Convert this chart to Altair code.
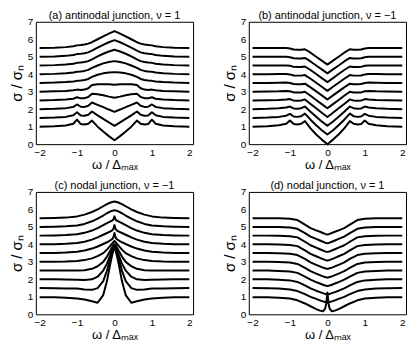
import altair as alt
import pandas as pd

FONT = "Liberation Sans"

XA = [-2, -1.6, -1.3, -1.1, -1.0, -0.9, -0.8, -0.7, -0.6, -0.45, -0.3, -0.15, 0,
      0.15, 0.3, 0.45, 0.6, 0.7, 0.8, 0.9, 1.0, 1.1, 1.3, 1.6, 2]
XC = [-2, -1.6, -1.3, -1.0, -0.8, -0.6, -0.45, -0.3, -0.2, -0.12, -0.06, -0.03, 0,
      0.03, 0.06, 0.12, 0.2, 0.3, 0.45, 0.6, 0.8, 1.0, 1.3, 1.6, 2]

A = [
    [1.0, 1.02, 1.07, 1.17, 1.4, 1.15, 1.12, 1.17, 1.35, 1.0, 0.72, 0.46, 0.22, 0.46, 0.72, 1.0, 1.35, 1.17, 1.12, 1.15, 1.4, 1.17, 1.07, 1.02, 1.0],
    [1.5, 1.52, 1.56, 1.65, 1.82, 1.64, 1.62, 1.68, 1.87, 1.65, 1.45, 1.25, 1.05, 1.25, 1.45, 1.65, 1.87, 1.68, 1.62, 1.64, 1.82, 1.65, 1.56, 1.52, 1.5],
    [2.0, 2.02, 2.06, 2.13, 2.27, 2.14, 2.13, 2.2, 2.38, 2.25, 2.12, 1.98, 1.85, 1.98, 2.12, 2.25, 2.38, 2.2, 2.13, 2.14, 2.27, 2.13, 2.06, 2.02, 2.0],
    [2.5, 2.52, 2.55, 2.6, 2.68, 2.62, 2.63, 2.7, 2.88, 2.85, 2.8, 2.72, 2.65, 2.72, 2.8, 2.85, 2.88, 2.7, 2.63, 2.62, 2.68, 2.6, 2.55, 2.52, 2.5],
    [3.0, 3.02, 3.04, 3.08, 3.12, 3.1, 3.12, 3.2, 3.38, 3.43, 3.43, 3.42, 3.4, 3.42, 3.43, 3.43, 3.38, 3.2, 3.12, 3.1, 3.12, 3.08, 3.04, 3.02, 3.0],
    [3.5, 3.52, 3.55, 3.59, 3.62, 3.64, 3.67, 3.73, 3.85, 3.97, 4.05, 4.1, 4.12, 4.1, 4.05, 3.97, 3.85, 3.73, 3.67, 3.64, 3.62, 3.59, 3.55, 3.52, 3.5],
    [4.0, 4.02, 4.05, 4.1, 4.14, 4.16, 4.19, 4.25, 4.36, 4.5, 4.62, 4.7, 4.75, 4.7, 4.62, 4.5, 4.36, 4.25, 4.19, 4.16, 4.14, 4.1, 4.05, 4.02, 4.0],
    [4.5, 4.52, 4.55, 4.6, 4.65, 4.67, 4.7, 4.75, 4.85, 5.02, 5.17, 5.3, 5.4, 5.3, 5.17, 5.02, 4.85, 4.75, 4.7, 4.67, 4.65, 4.6, 4.55, 4.52, 4.5],
    [5.0, 5.02, 5.05, 5.1, 5.15, 5.17, 5.2, 5.25, 5.35, 5.52, 5.68, 5.83, 5.95, 5.83, 5.68, 5.52, 5.35, 5.25, 5.2, 5.17, 5.15, 5.1, 5.05, 5.02, 5.0],
    [5.5, 5.52, 5.55, 5.6, 5.65, 5.67, 5.7, 5.75, 5.83, 6.0, 6.17, 6.32, 6.47, 6.32, 6.17, 6.0, 5.83, 5.75, 5.7, 5.67, 5.65, 5.6, 5.55, 5.52, 5.5],
]

B = [
    [1.0, 1.03, 1.08, 1.17, 1.35, 1.15, 1.12, 1.17, 1.32, 0.9, 0.55, 0.26, 0.0, 0.26, 0.55, 0.9, 1.32, 1.17, 1.12, 1.15, 1.35, 1.17, 1.08, 1.03, 1.0],
    [1.5, 1.52, 1.56, 1.63, 1.73, 1.58, 1.56, 1.6, 1.75, 1.4, 1.08, 0.8, 0.55, 0.8, 1.08, 1.4, 1.75, 1.6, 1.56, 1.58, 1.73, 1.63, 1.56, 1.52, 1.5],
    [2.0, 2.02, 2.05, 2.1, 2.15, 2.04, 2.03, 2.06, 2.15, 1.85, 1.57, 1.3, 1.05, 1.3, 1.57, 1.85, 2.15, 2.06, 2.03, 2.04, 2.15, 2.1, 2.05, 2.02, 2.0],
    [2.5, 2.51, 2.53, 2.56, 2.58, 2.49, 2.48, 2.5, 2.56, 2.3, 2.05, 1.8, 1.55, 1.8, 2.05, 2.3, 2.56, 2.5, 2.48, 2.49, 2.58, 2.56, 2.53, 2.51, 2.5],
    [3.0, 3.01, 3.02, 3.04, 3.03, 2.96, 2.95, 2.96, 3.0, 2.77, 2.53, 2.29, 2.05, 2.29, 2.53, 2.77, 3.0, 2.96, 2.95, 2.96, 3.03, 3.04, 3.02, 3.01, 3.0],
    [3.5, 3.5, 3.51, 3.52, 3.5, 3.44, 3.43, 3.43, 3.46, 3.25, 3.02, 2.79, 2.55, 2.79, 3.02, 3.25, 3.46, 3.43, 3.43, 3.44, 3.5, 3.52, 3.51, 3.5, 3.5],
    [4.0, 4.0, 4.01, 4.01, 3.99, 3.93, 3.92, 3.92, 3.95, 3.74, 3.51, 3.28, 3.05, 3.28, 3.51, 3.74, 3.95, 3.92, 3.92, 3.93, 3.99, 4.01, 4.01, 4.0, 4.0],
    [4.5, 4.5, 4.5, 4.5, 4.48, 4.42, 4.41, 4.41, 4.44, 4.24, 4.01, 3.78, 3.55, 3.78, 4.01, 4.24, 4.44, 4.41, 4.41, 4.42, 4.48, 4.5, 4.5, 4.5, 4.5],
    [5.0, 5.0, 5.0, 5.0, 4.97, 4.91, 4.9, 4.9, 4.93, 4.73, 4.5, 4.28, 4.05, 4.28, 4.5, 4.73, 4.93, 4.9, 4.9, 4.91, 4.97, 5.0, 5.0, 5.0, 5.0],
    [5.5, 5.5, 5.5, 5.5, 5.47, 5.41, 5.4, 5.4, 5.43, 5.23, 5.0, 4.78, 4.55, 4.78, 5.0, 5.23, 5.43, 5.4, 5.4, 5.41, 5.47, 5.5, 5.5, 5.5, 5.5],
]

C = [
    [0.98, 0.97, 0.95, 0.9, 0.85, 0.75, 0.66, 1.1, 1.9, 2.8, 3.4, 3.65, 3.8, 3.65, 3.4, 2.8, 1.9, 1.1, 0.66, 0.75, 0.85, 0.9, 0.95, 0.97, 0.98],
    [1.5, 1.49, 1.48, 1.47, 1.42, 1.4, 1.5, 1.9, 2.5, 3.1, 3.55, 3.75, 3.9, 3.75, 3.55, 3.1, 2.5, 1.9, 1.5, 1.4, 1.42, 1.47, 1.48, 1.49, 1.5],
    [2.0, 2.0, 1.99, 1.97, 1.96, 2.0, 2.15, 2.5, 2.9, 3.35, 3.7, 3.85, 3.95, 3.85, 3.7, 3.35, 2.9, 2.5, 2.15, 2.0, 1.96, 1.97, 1.99, 2.0, 2.0],
    [2.5, 2.5, 2.5, 2.5, 2.52, 2.6, 2.75, 3.0, 3.3, 3.6, 3.85, 3.95, 4.0, 3.95, 3.85, 3.6, 3.3, 3.0, 2.75, 2.6, 2.52, 2.5, 2.5, 2.5, 2.5],
    [3.0, 3.01, 3.02, 3.05, 3.1, 3.2, 3.33, 3.5, 3.7, 3.9, 4.05, 4.12, 4.2, 4.12, 4.05, 3.9, 3.7, 3.5, 3.33, 3.2, 3.1, 3.05, 3.02, 3.01, 3.0],
    [3.5, 3.51, 3.53, 3.58, 3.65, 3.76, 3.88, 4.02, 4.12, 4.22, 4.3, 4.4, 4.65, 4.4, 4.3, 4.22, 4.12, 4.02, 3.88, 3.76, 3.65, 3.58, 3.53, 3.51, 3.5],
    [4.0, 4.01, 4.03, 4.08, 4.15, 4.27, 4.4, 4.55, 4.65, 4.73, 4.8, 4.88, 5.1, 4.88, 4.8, 4.73, 4.65, 4.55, 4.4, 4.27, 4.15, 4.08, 4.03, 4.01, 4.0],
    [4.5, 4.51, 4.53, 4.58, 4.66, 4.79, 4.93, 5.1, 5.22, 5.3, 5.36, 5.42, 5.6, 5.42, 5.36, 5.3, 5.22, 5.1, 4.93, 4.79, 4.66, 4.58, 4.53, 4.51, 4.5],
    [5.0, 5.01, 5.03, 5.08, 5.17, 5.32, 5.47, 5.65, 5.78, 5.87, 5.92, 5.94, 5.95, 5.94, 5.92, 5.87, 5.78, 5.65, 5.47, 5.32, 5.17, 5.08, 5.03, 5.01, 5.0],
    [5.5, 5.51, 5.53, 5.6, 5.7, 5.85, 6.0, 6.18, 6.3, 6.38, 6.42, 6.44, 6.45, 6.44, 6.42, 6.38, 6.3, 6.18, 6.0, 5.85, 5.7, 5.6, 5.53, 5.51, 5.5],
]

D = [
    [0.98, 0.97, 0.95, 0.9, 0.8, 0.62, 0.46, 0.3, 0.21, 0.17, 0.33, 0.62, 1.25, 0.62, 0.33, 0.17, 0.21, 0.3, 0.46, 0.62, 0.8, 0.9, 0.95, 0.97, 0.98],
    [1.5, 1.49, 1.47, 1.42, 1.33, 1.15, 1.0, 0.88, 0.8, 0.74, 0.7, 0.68, 0.68, 0.68, 0.7, 0.74, 0.8, 0.88, 1.0, 1.15, 1.33, 1.42, 1.47, 1.49, 1.5],
    [2.0, 2.0, 1.98, 1.94, 1.85, 1.65, 1.48, 1.35, 1.27, 1.21, 1.17, 1.15, 1.15, 1.15, 1.17, 1.21, 1.27, 1.35, 1.48, 1.65, 1.85, 1.94, 1.98, 2.0, 2.0],
    [2.5, 2.5, 2.48, 2.45, 2.37, 2.16, 1.98, 1.84, 1.76, 1.69, 1.65, 1.63, 1.62, 1.63, 1.65, 1.69, 1.76, 1.84, 1.98, 2.16, 2.37, 2.45, 2.48, 2.5, 2.5],
    [3.0, 3.0, 2.99, 2.96, 2.88, 2.66, 2.47, 2.33, 2.24, 2.17, 2.13, 2.11, 2.1, 2.11, 2.13, 2.17, 2.24, 2.33, 2.47, 2.66, 2.88, 2.96, 2.99, 3.0, 3.0],
    [3.5, 3.5, 3.49, 3.46, 3.39, 3.17, 2.97, 2.83, 2.74, 2.67, 2.63, 2.61, 2.6, 2.61, 2.63, 2.67, 2.74, 2.83, 2.97, 3.17, 3.39, 3.46, 3.49, 3.5, 3.5],
    [4.0, 4.0, 3.99, 3.97, 3.9, 3.66, 3.46, 3.32, 3.23, 3.16, 3.11, 3.09, 3.08, 3.09, 3.11, 3.16, 3.23, 3.32, 3.46, 3.66, 3.9, 3.97, 3.99, 4.0, 4.0],
    [4.5, 4.5, 4.49, 4.47, 4.4, 4.15, 3.95, 3.81, 3.72, 3.65, 3.6, 3.58, 3.57, 3.58, 3.6, 3.65, 3.72, 3.81, 3.95, 4.15, 4.4, 4.47, 4.49, 4.5, 4.5],
    [5.0, 5.0, 4.99, 4.97, 4.89, 4.64, 4.44, 4.31, 4.22, 4.15, 4.1, 4.08, 4.07, 4.08, 4.1, 4.15, 4.22, 4.31, 4.44, 4.64, 4.89, 4.97, 4.99, 5.0, 5.0],
    [5.5, 5.5, 5.49, 5.47, 5.39, 5.13, 4.93, 4.8, 4.72, 4.65, 4.6, 4.58, 4.57, 4.58, 4.6, 4.65, 4.72, 4.8, 4.93, 5.13, 5.39, 5.47, 5.49, 5.5, 5.5],
]

TITLES = ["(a) antinodal junction, \u03bd = 1", "(b) antinodal junction, \u03bd = \u22121",
          "(c) nodal junction, \u03bd = \u22121", "(d) nodal junction, \u03bd = 1"]
X_TICKS = [-2, -1, 0, 1, 2]
Y_TICKS = [0, 1, 2, 3, 4, 5, 6, 7]


def panel(xs, curves, title):
    rows = []
    for i, ys in enumerate(curves):
        assert len(ys) == len(xs)
        for xv, yv in zip(xs, ys):
            rows.append({"x": xv, "y": yv, "c": i})
    df = pd.DataFrame(rows)
    return alt.Chart(df, title=alt.Title(title, fontSize=11, fontWeight="normal", font=FONT,
                                         color="black", offset=-4)).mark_line(
        color="black", strokeWidth=2, strokeJoin="round").encode(
        x=alt.X("x:Q", scale=alt.Scale(domain=[-2.1, 2.1], nice=False, zero=False),
                axis=alt.Axis(values=X_TICKS, title="\u03c9 / \u0394\u2098\u2090\u2093", format="d")),
        y=alt.Y("y:Q", scale=alt.Scale(domain=[0, 7], nice=False),
                axis=alt.Axis(values=Y_TICKS, title="\u03c3 / \u03c3\u2099", format="d")),
        detail="c:N",
    ).properties(width=158, height=123)


pa = panel(XA, A, TITLES[0])
pb = panel(XA, B, TITLES[1])
pc = panel(XC, C, TITLES[2])
pd_ = panel(XC, D, TITLES[3])

chart = alt.concat(pa, pb, pc, pd_, columns=2, spacing={"row": 48, "column": 56},
                   bounds="flush").configure_view(
    stroke="black", strokeWidth=1
).configure_axis(
    domain=False, ticks=False, grid=False,
    labelFont=FONT, labelFontSize=10, labelColor="black", labelPadding=3,
    titleFont=FONT, titleColor="black", titleFontWeight="normal",
).configure_axisX(titleFontSize=13, titlePadding=1).configure_axisY(
    titleFontSize=15, titlePadding=3
).properties(padding={"left": 0, "top": 0, "right": 0, "bottom": 0})

chart.save("out.html", embed_options={"renderer": "svg", "actions": False})
